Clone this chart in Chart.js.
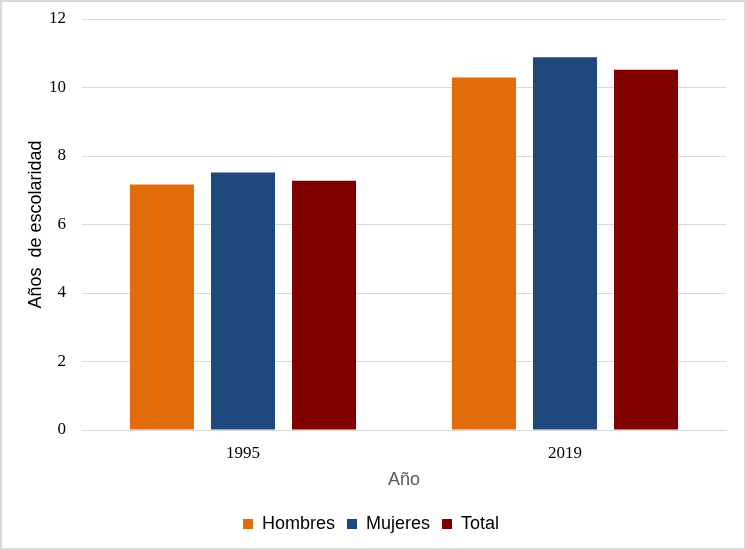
<!DOCTYPE html>
<html>
<head>
<meta charset="utf-8">
<script src="https://cdn.jsdelivr.net/npm/chart.js@4"></script>
<style>
  html, body { margin: 0; padding: 0; background: #fff; }
  #wrap { width: 746px; height: 550px; box-sizing: border-box; border: 2px solid #d9d9d9; position: relative; }
</style>
</head>
<body>
<div id="wrap"><canvas id="chart"></canvas></div>
<script>
// Datos
const anios = ['1995', '2019'];
const hombres = [7.17, 10.29];
const mujeres = [7.52, 10.88];
const total = [7.28, 10.52];
const yTicks = [0, 2, 4, 6, 8, 10, 12];

document.addEventListener('DOMContentLoaded', function() {
    const ctx = document.getElementById('chart').getContext('2d');
    new Chart(ctx, {
        type: 'bar',
        data: {
            labels: anios,
            datasets: [
                { label: 'Hombres', data: hombres, backgroundColor: '#e36c0a' },
                { label: 'Mujeres', data: mujeres, backgroundColor: '#1f497d' },
                { label: 'Total', data: total, backgroundColor: '#800000' }
            ]
        },
        options: {
            responsive: true,
            maintainAspectRatio: false,
            animation: false,
            layout: { padding: { top: 0, right: 18, left: 14, bottom: 5 } },
            datasets: { bar: { categoryPercentage: 0.755, barPercentage: 0.79 } },
            plugins: {
                legend: {
                    position: 'bottom',
                    labels: {
                        color: '#000',
                        font: { family: 'Liberation Sans', size: 18 },
                        boxWidth: 10, boxHeight: 10,
                        padding: 12
                    }
                },
                tooltip: { enabled: false }
            },
            scales: {
                x: {
                    grid: { display: false },
                    border: { display: true, color: '#d9d9d9' },
                    ticks: { color: '#000', font: { family: 'Liberation Serif', size: 17 }, padding: 5 },
                    title: { display: true, text: 'Año', color: '#595959', font: { family: 'Liberation Sans', size: 18 }, padding: { top: 1, bottom: 12 } }
                },
                y: {
                    min: 0, max: 12,
                    afterBuildTicks: function(axis) { axis.ticks = yTicks.map(v => ({ value: v })); },
                    afterFit: function(axis) { axis.width = 66; axis.paddingTop = 17; },
                    grid: { color: '#d9d9d9', drawTicks: false },
                    border: { display: false },
                    ticks: { color: '#000', font: { family: 'Liberation Serif', size: 17 }, padding: 16 },
                    title: { display: true, text: 'Años  de escolaridad', color: '#000', font: { family: 'Liberation Sans', size: 18 }, padding: { top: 9, bottom: 0 } }
                }
            }
        }
    });
});
</script>
</body>
</html>
